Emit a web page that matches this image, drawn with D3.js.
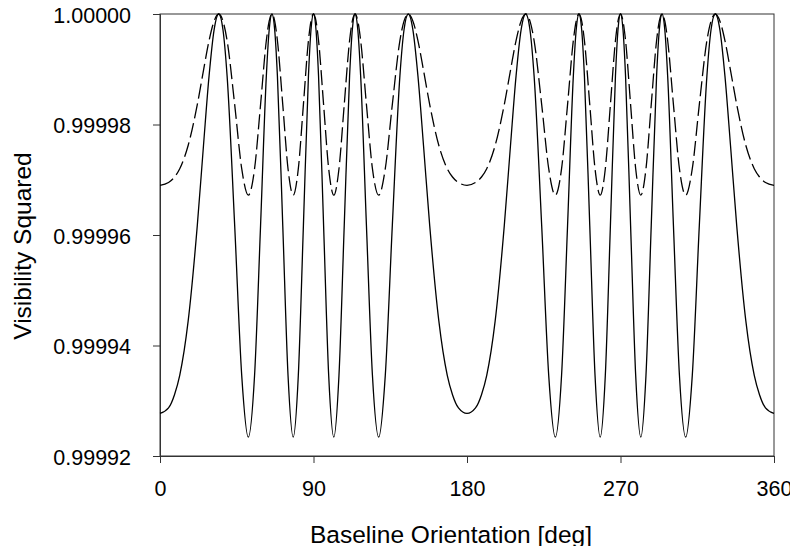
<!DOCTYPE html>
<html>
<head>
<meta charset="utf-8">
<script src="https://cdn.jsdelivr.net/npm/d3@7"></script>
<style>
  body { margin: 0; background: #fff; }
  svg { display: block; font-family: "Liberation Sans", Arial, sans-serif; }
</style>
</head>
<body>
<svg width="790" height="546"></svg>
<script>

// baseline orientation [deg]
const angles = [
  0, 5, 8.5, 11.57, 16.5, 21.86, 25.5, 28.77, 31.7, 34.41,
  36.94, 39.34, 43.79, 47.91, 51.78, 55.45, 58.96, 62.35, 64.01, 65.64,
  67.25, 68.84, 71.98, 75.06, 78.1, 81.1, 84.08, 87.04, 88.52, 90,
  91.48, 92.96, 95.92, 98.9, 101.9, 104.94, 108.02, 111.16, 112.75, 114.36,
  115.99, 117.65, 121.04, 124.55, 128.22, 132.09, 136.21, 140.66, 143.06, 145.59,
  148.3, 151.23, 154.5, 158.14, 163.5, 168.43, 171.5, 175, 180,
  185, 188.5, 191.57, 196.5, 201.86, 205.5, 208.77, 211.7, 214.41,
  216.94, 219.34, 223.79, 227.91, 231.78, 235.45, 238.96, 242.35, 244.01, 245.64,
  247.25, 248.84, 251.98, 255.06, 258.1, 261.1, 264.08, 267.04, 268.52, 270,
  271.48, 272.96, 275.92, 278.9, 281.9, 284.94, 288.02, 291.16, 292.75, 294.36,
  295.99, 297.65, 301.04, 304.55, 308.22, 312.09, 316.21, 320.66, 323.06, 325.59,
  328.3, 331.23, 334.5, 338.14, 343.5, 348.43, 351.5, 355, 360
]

// solid curve
const visSolid = [
  0.9999277, 0.9999287, 0.9999311, 0.9999346, 0.9999444, 0.9999617, 0.9999762, 0.9999888, 0.9999971, 1.0000000,
  0.9999971, 0.9999888, 0.9999617, 0.9999346, 0.9999234, 0.9999346, 0.9999617, 0.9999888, 0.9999971, 1.0000000,
  0.9999971, 0.9999888, 0.9999617, 0.9999346, 0.9999234, 0.9999346, 0.9999617, 0.9999888, 0.9999971, 1.0000000,
  0.9999971, 0.9999888, 0.9999617, 0.9999346, 0.9999234, 0.9999346, 0.9999617, 0.9999888, 0.9999971, 1.0000000,
  0.9999971, 0.9999888, 0.9999617, 0.9999346, 0.9999234, 0.9999346, 0.9999617, 0.9999888, 0.9999971, 1.0000000,
  0.9999971, 0.9999888, 0.9999762, 0.9999617, 0.9999444, 0.9999346, 0.9999311, 0.9999287, 0.9999277,
  0.9999287, 0.9999311, 0.9999346, 0.9999444, 0.9999617, 0.9999762, 0.9999888, 0.9999971, 1.0000000,
  0.9999971, 0.9999888, 0.9999617, 0.9999346, 0.9999234, 0.9999346, 0.9999617, 0.9999888, 0.9999971, 1.0000000,
  0.9999971, 0.9999888, 0.9999617, 0.9999346, 0.9999234, 0.9999346, 0.9999617, 0.9999888, 0.9999971, 1.0000000,
  0.9999971, 0.9999888, 0.9999617, 0.9999346, 0.9999234, 0.9999346, 0.9999617, 0.9999888, 0.9999971, 1.0000000,
  0.9999971, 0.9999888, 0.9999617, 0.9999346, 0.9999234, 0.9999346, 0.9999617, 0.9999888, 0.9999971, 1.0000000,
  0.9999971, 0.9999888, 0.9999762, 0.9999617, 0.9999444, 0.9999346, 0.9999311, 0.9999287, 0.9999277
]

// dashed curve
const visDashed = [
  0.9999690, 0.9999695, 0.9999705, 0.9999720, 0.9999762, 0.9999836, 0.9999898, 0.9999952, 0.9999987, 1.0000000,
  0.9999987, 0.9999952, 0.9999836, 0.9999720, 0.9999672, 0.9999720, 0.9999836, 0.9999952, 0.9999987, 1.0000000,
  0.9999987, 0.9999952, 0.9999836, 0.9999720, 0.9999672, 0.9999720, 0.9999836, 0.9999952, 0.9999987, 1.0000000,
  0.9999987, 0.9999952, 0.9999836, 0.9999720, 0.9999672, 0.9999720, 0.9999836, 0.9999952, 0.9999987, 1.0000000,
  0.9999987, 0.9999952, 0.9999836, 0.9999720, 0.9999672, 0.9999720, 0.9999836, 0.9999952, 0.9999987, 1.0000000,
  0.9999987, 0.9999952, 0.9999898, 0.9999836, 0.9999762, 0.9999720, 0.9999705, 0.9999695, 0.9999690,
  0.9999695, 0.9999705, 0.9999720, 0.9999762, 0.9999836, 0.9999898, 0.9999952, 0.9999987, 1.0000000,
  0.9999987, 0.9999952, 0.9999836, 0.9999720, 0.9999672, 0.9999720, 0.9999836, 0.9999952, 0.9999987, 1.0000000,
  0.9999987, 0.9999952, 0.9999836, 0.9999720, 0.9999672, 0.9999720, 0.9999836, 0.9999952, 0.9999987, 1.0000000,
  0.9999987, 0.9999952, 0.9999836, 0.9999720, 0.9999672, 0.9999720, 0.9999836, 0.9999952, 0.9999987, 1.0000000,
  0.9999987, 0.9999952, 0.9999836, 0.9999720, 0.9999672, 0.9999720, 0.9999836, 0.9999952, 0.9999987, 1.0000000,
  0.9999987, 0.9999952, 0.9999898, 0.9999836, 0.9999762, 0.9999720, 0.9999705, 0.9999695, 0.9999690
]

const xTicks = [0, 90, 180, 270, 360]
const yTicks = [0.99992, 0.99994, 0.99996, 0.99998, 1.00000]

const svg = d3.select('svg')
const margin = {left: 160, top: 14, right: 16, bottom: 90}
const w = 790 - margin.left - margin.right
const h = 546 - margin.top - margin.bottom
const tickFont = 21.5
const titleFont = 24.5

const x = d3.scaleLinear().domain([0, 360]).range([0, w])
const y = d3.scaleLinear().domain([0.99992, 1.00000]).range([h, 0])

const g = svg.append('g').attr('transform', `translate(${margin.left},${margin.top})`)

// frame
g.append('rect')
  .attr('x', 0).attr('y', 0)
  .attr('width', w).attr('height', h)
  .attr('fill', 'none')
  .attr('stroke', '#333')
  .attr('stroke-width', 1)

const xAxis = g.append('g')
  .attr('transform', `translate(0,${h})`)
  .call(d3.axisBottom(x).tickValues(xTicks).tickSize(7).tickPadding(18).tickFormat(d3.format('d')))
const yAxis = g.append('g')
  .call(d3.axisLeft(y).tickValues(yTicks).tickSize(7).tickPadding(22).tickFormat(d3.format('.5f')))

;[xAxis, yAxis].forEach(ax => {
  ax.select('.domain').attr('stroke', '#333')
  ax.selectAll('.tick line').attr('stroke', '#333')
  ax.selectAll('.tick text')
    .attr('fill', '#000')
    .style('font-family', '"Liberation Sans", Arial, sans-serif')
    .style('font-size', tickFont + 'px')
})
yAxis.selectAll('.tick text').attr('dy', '0.39em')

const line = (vals) => d3.line()
  .x((d, i) => x(angles[i]))
  .y(d => y(d))
  .curve(d3.curveMonotoneX)(vals)

g.append('path')
  .attr('d', line(visDashed))
  .attr('fill', 'none')
  .attr('stroke', '#000')
  .attr('stroke-width', 1.3)
  .attr('stroke-dasharray', '15,5')

g.append('path')
  .attr('d', line(visSolid))
  .attr('fill', 'none')
  .attr('stroke', '#000')
  .attr('stroke-width', 1.3)

// axis titles
svg.append('text')
  .attr('x', 451)
  .attr('y', 543)
  .attr('text-anchor', 'middle')
  .style('font-size', titleFont + 'px')
  .text('Baseline Orientation [deg]')

svg.append('text')
  .attr('transform', 'translate(31,246) rotate(-90)')
  .attr('text-anchor', 'middle')
  .style('font-size', titleFont + 'px')
  .text('Visibility Squared')

</script>
</body>
</html>
